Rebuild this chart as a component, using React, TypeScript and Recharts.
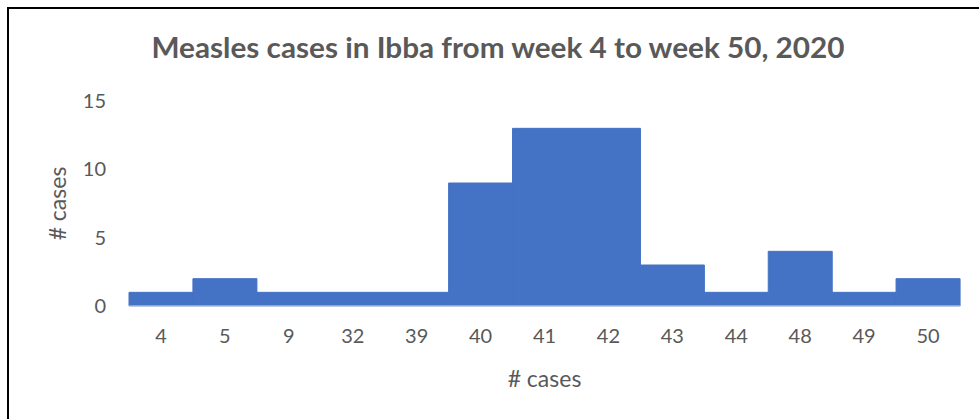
import React from 'react';
import { BarChart, Bar, XAxis, YAxis } from 'recharts';

const weeks = ['4', '5', '9', '32', '39', '40', '41', '42', '43', '44', '48', '49', '50'];
const cases = [1, 2, 1, 1, 1, 9, 13, 13, 3, 1, 4, 1, 2];
const yTicks = [0, 5, 10, 15];

const data = weeks.map((week, i) => ({ week, cases: cases[i] }));

const font = 'Lato, "Open Sans", sans-serif';
const grey = '#595959';

const App = () => {
  return (
    <div style={{ position: 'absolute', left: 0, top: 0, width: 979, height: 419, background: '#fff', overflow: 'hidden' }}>
      <div
        style={{
          position: 'absolute',
          left: 7,
          top: 7,
          width: 1000,
          height: 500,
          borderLeft: '2px solid #000',
          borderTop: '2px solid #000',
        }}
      />
      <svg width={979} height={80} style={{ position: 'absolute', left: 0, top: 0 }}>
        <text
          x={498}
          y={58}
          textAnchor="middle"
          textLength={693}
          lengthAdjust="spacingAndGlyphs"
          style={{ fontFamily: font, fontWeight: 700, fontSize: 29, fill: grey }}
        >
          Measles cases in Ibba from week 4 to week 50, 2020
        </text>
      </svg>
      <div style={{ position: 'absolute', left: 0, top: 0 }}>
        <BarChart
          width={979}
          height={419}
          data={data}
          margin={{ top: 101, right: 19, bottom: 0, left: 0 }}
          barCategoryGap={0}
        >
          <XAxis
            dataKey="week"
            height={113}
            axisLine={{ stroke: '#d9d9d9', strokeWidth: 1 }}
            tickLine={false}
            tickMargin={17}
            tick={{ fontFamily: font, fontSize: 20, fill: grey }}
            label={{
              value: '# cases',
              position: 'insideBottom',
              offset: 32,
              style: { fontFamily: font, fontSize: 23, fill: grey },
            }}
          />
          <YAxis
            width={129}
            domain={[0, 15]}
            ticks={yTicks}
            axisLine={false}
            tickLine={false}
            tickMargin={17}
            tick={{ fontFamily: font, fontSize: 20, fill: grey }}
            label={{
              value: '# cases',
              angle: -90,
              position: 'insideLeft',
              offset: 58,
              style: { fontFamily: font, fontSize: 23, fill: grey, textAnchor: 'middle' },
            }}
          />
          <Bar dataKey="cases" fill="#4472C4" stroke="#4472C4" strokeWidth={1} isAnimationActive={false} />
        </BarChart>
      </div>
    </div>
  );
};

export default App;
